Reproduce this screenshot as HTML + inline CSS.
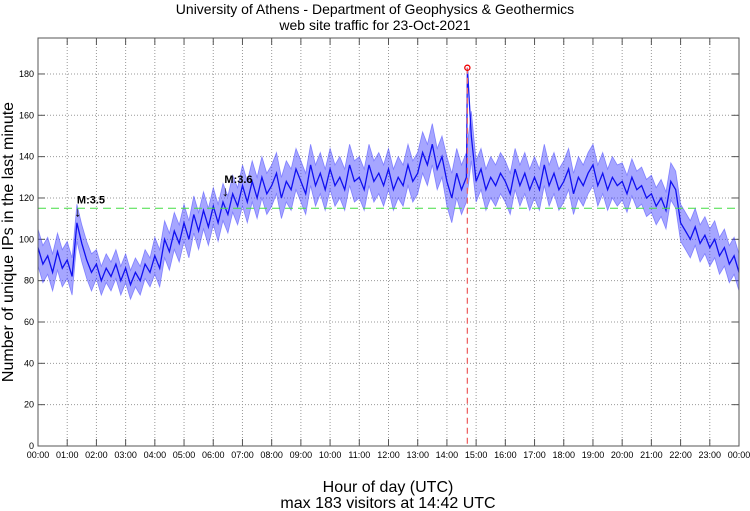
<!DOCTYPE html>
<html><head><meta charset="utf-8"><style>
body{margin:0;background:#fff;}
svg{display:block;font-family:"Liberation Sans",sans-serif;}
</style></head><body>
<svg id="chart" width="750" height="511" xmlns="http://www.w3.org/2000/svg">
<text x="375" y="14" font-size="14" text-anchor="middle">University of Athens - Department of Geophysics &amp; Geothermics</text>
<text x="375" y="30" font-size="14" text-anchor="middle">web site traffic for 23-Oct-2021</text>
<g id="grid"></g>
<g id="ticks"></g>
<path id="band" fill="#3a3aff" fill-opacity="0.45" stroke="#3a3aff" stroke-opacity="0.5" stroke-width="0.8"/>
<path id="series" fill="none" stroke="#0000ee" stroke-width="1.3" stroke-opacity="0.9"/>
<line id="thresh" stroke="#44dd44" stroke-dasharray="8,5" stroke-width="1"/>
<line id="peakline" stroke="#ee6666" stroke-dasharray="6,4" stroke-width="1.3"/>
<circle id="peakdot" r="2.6" fill="none" stroke="#ee0000" stroke-width="1.3"/>
<g id="ann"></g>
<rect x="38" y="38" width="701" height="408" fill="none" stroke="#555" stroke-width="1"/>
<text transform="translate(13,242) rotate(-90)" font-size="16" text-anchor="middle">Number of unique IPs in the last minute</text>
<text x="388" y="492" font-size="16" text-anchor="middle">Hour of day (UTC)</text>
<text x="388" y="508" font-size="16" text-anchor="middle">max 183 visitors at 14:42 UTC</text>
</svg>
<script>
const values = [
96,88,92,84,94,86, 90,82,108,98,90,84, 88,80,86,82,88,80, 86,78,84,80,88,84,
92,86,100,94,104,98, 108,100,112,104,114,106, 116,108,118,112,122,116, 126,118,128,120,130,122,
126,132,120,128,124,134, 128,122,136,126,132,124, 134,126,130,124,136,128, 130,124,136,128,132,126,
134,124,130,126,136,128, 132,142,136,146,134,140, 128,120,132,124,130,150, 128,134,124,130,126,132,
128,122,134,126,132,124, 130,124,136,126,132,124, 128,134,122,130,126,132, 136,126,132,124,130,126,
128,122,130,124,126,120, 122,116,120,114,128,124, 108,104,100,106,98,102, 96,100,92,96,88,92, 84];
const hourSpread = [9,9,7,7,9,9,9,10,10,10,10,10,10,10,12,10,10,10,10,10,9,9,9,9,9];
const peakMinute = 882;
const peakValue = 183;
const threshold = 115;
const yTicks = [0,20,40,60,80,100,120,140,160,180];
const xTickLabels = ["00:00","01:00","02:00","03:00","04:00","05:00","06:00","07:00","08:00","09:00","10:00","11:00","12:00","13:00","14:00","15:00","16:00","17:00","18:00","19:00","20:00","21:00","22:00","23:00","00:00"];
const notes = [{label:"M:3.5", minute:82, value:110},{label:"M:3.6", minute:385, value:120}];

const L=38,R=739,T=38,B=446,YMAX=197.4;
const xs=m=>L+m/1440*(R-L);
const ys=v=>B-v/YMAX*(B-T);
const NS="http://www.w3.org/2000/svg";
function mk(tag,parent,attrs){const e=document.createElementNS(NS,tag);for(const k in attrs)e.setAttribute(k,attrs[k]);parent.appendChild(e);return e;}
const grid=document.getElementById('grid'),ticks=document.getElementById('ticks');
yTicks.forEach(v=>{const y=ys(v);
 if(v>0){const g=mk('line',grid,{x1:L,x2:R,y1:y,y2:y,stroke:'#999','stroke-dasharray':'1,2'});
 }
 const t1=mk('line',ticks,{x1:L,x2:L+7,y1:y,y2:y,stroke:'#555'});
 
 const t2=mk('line',ticks,{x1:R-7,x2:R,y1:y,y2:y,stroke:'#555'});
 
 const tx=mk('text',ticks,{x:L-4,y:y+3,'font-size':9,'text-anchor':'end'});tx.textContent=v;
 
});
xTickLabels.forEach((lab,i)=>{const x=xs(i*60);
 if(i>0&&i<24){const g=mk('line',grid,{x1:x,x2:x,y1:T,y2:B,stroke:'#999','stroke-dasharray':'1,2'});
 }
 const t1=mk('line',ticks,{x1:x,x2:x,y1:B-7,y2:B,stroke:'#555'});
 
 const t2=mk('line',ticks,{x1:x,x2:x,y1:T,y2:T+7,stroke:'#555'});
 
 const tx=mk('text',ticks,{x:x,y:B+12,'font-size':9,'text-anchor':'middle'});tx.textContent=lab;
 
});
const th=document.getElementById('thresh');
th.setAttribute('x1',L);th.setAttribute('x2',R);th.setAttribute('y1',ys(threshold));th.setAttribute('y2',ys(threshold));
const up=values.map((v,i)=>[xs(i*10),ys(v+hourSpread[Math.floor(i/6)])]);
const lo=values.map((v,i)=>[xs(i*10),ys(v-hourSpread[Math.floor(i/6)])]).reverse();
document.getElementById('band').setAttribute('d',up.concat(lo).map((p,i)=>(i?'L':'M')+p[0].toFixed(1)+','+p[1].toFixed(1)).join('')+'Z');
const pts=values.map((v,i)=>[i*10,v]);pts.push([peakMinute,peakValue]);pts.sort((a,b)=>a[0]-b[0]);
document.getElementById('series').setAttribute('d',pts.map((p,i)=>(i?'L':'M')+xs(p[0]).toFixed(1)+','+ys(p[1]).toFixed(1)).join(''));
const pl=document.getElementById('peakline');
pl.setAttribute('x1',xs(peakMinute));pl.setAttribute('x2',xs(peakMinute));pl.setAttribute('y1',ys(peakValue));pl.setAttribute('y2',B);
const pd=document.getElementById('peakdot');pd.setAttribute('cx',xs(peakMinute));pd.setAttribute('cy',ys(peakValue));
const ann=document.getElementById('ann');
notes.forEach(n=>{const x=xs(n.minute),y=ys(n.value);
 const a=mk('text',ann,{x:x,y:y-2,'font-size':14,'text-anchor':'middle'});a.textContent='↓';
 
 const t=mk('text',ann,{x:x-1,y:y-15,'font-size':11,'font-weight':'bold'});t.textContent=n.label;
 
});
</script>
</body></html>
